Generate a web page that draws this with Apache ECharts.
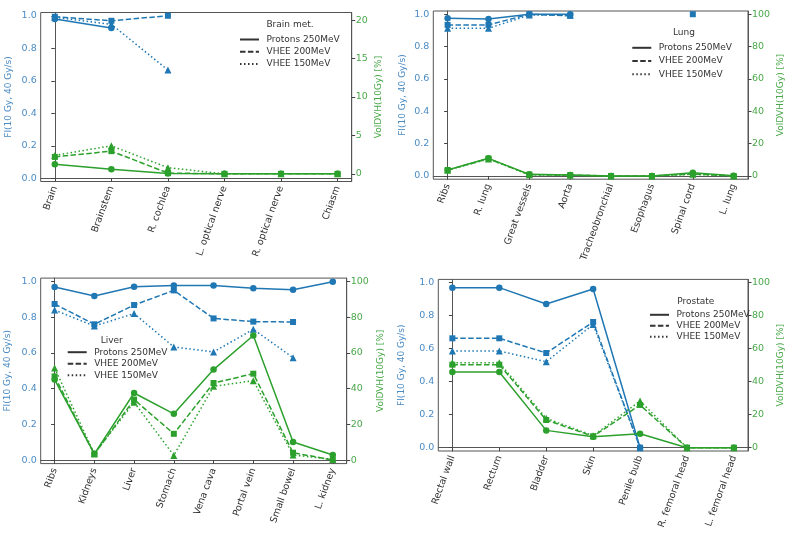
<!DOCTYPE html>
<html>
<head>
<meta charset="utf-8">
<script src="https://cdn.jsdelivr.net/npm/echarts@6/dist/echarts.min.js"></script>
<style>
  html, body { margin: 0; padding: 0; background: #fff; }
  #chart { width: 788px; height: 542px; }
</style>
</head>
<body>
<div id="chart"></div>
<script>
// 数据：四个部位，每个部位 FI（左轴）和 VolDVH（右轴）各三条射束曲线
const beamNames = ['Protons 250MeV', 'VHEE 200MeV', 'VHEE 150MeV'];

const fiTicks = [0, 0.2, 0.4, 0.6, 0.8, 1.0];
const brainVolTicks = [0, 5, 10, 15, 20];
const volTicks = [0, 20, 40, 60, 80, 100];

// Brain met.
const brainCats = ['Brain', 'Brainstem', 'R. cochlea', 'L. optical nerve', 'R. optical nerve', 'Chiasm'];
const brainFiP = [0.98, 0.924, null, null, null, null];
const brainFi200 = [0.994, 0.969, 1.0, null, null, null];
const brainFi150 = [0.99, 0.947, 0.666, null, null, null];
const brainVolP = [1.26, 0.61, 0.05, 0, 0, 0];
const brainVol200 = [2.2, 2.95, 0.1, 0, 0, 0];
const brainVol150 = [2.4, 3.65, 0.8, 0, 0, 0];

// Lung
const lungCats = ['Ribs', 'R. lung', 'Great vessels', 'Aorta', 'Tracheobronchial', 'Esophagus', 'Spinal cord', 'L. lung'];
const lungFiP = [0.975, 0.971, 1.0, 1.0, null, null, null, null];
const lungFi200 = [0.934, 0.934, 1.0, 0.99, null, null, 1.0, null];
const lungFi150 = [0.913, 0.913, 0.995, 0.995, null, null, null, null];
const lungVolP = [3.7, 10.9, 1.0, 0.6, 0, 0, 2.0, 0.2];
const lungVol200 = [3.7, 10.7, 0.8, 0.5, 0, 0, 1.2, 0];
const lungVol150 = [3.6, 10.5, 0.7, 0.4, 0, 0, 1.0, 0];

// Liver
const liverCats = ['Ribs', 'Kidneys', 'Liver', 'Stomach', 'Vena cava', 'Portal vein', 'Small bowel', 'L. kidney'];
const liverFiP = [0.970, 0.920, 0.972, 0.979, 0.978, 0.963, 0.955, 1.0];
const liverFi200 = [0.875, 0.761, 0.869, 0.951, 0.794, 0.776, 0.774, null];
const liverFi150 = [0.841, 0.751, 0.821, 0.634, 0.606, 0.733, 0.574, null];
const liverVolP = [45.1, 3.5, 37.6, 25.9, 50.7, 69.8, 10.1, 2.8];
const liverVol200 = [46.9, 3.2, 33.9, 14.7, 43.2, 48.4, 4.1, 0];
const liverVol150 = [51.6, 3.5, 32.4, 2.6, 41.3, 44.5, 2.8, 0.4];

// Prostate
const prostateCats = ['Rectal wall', 'Rectum', 'Bladder', 'Skin', 'Penile bulb', 'R. femoral head', 'L. femoral head'];
const prostateFiP = [0.970, 0.970, 0.871, 0.962, 0, null, null];
const prostateFi200 = [0.663, 0.663, 0.574, 0.762, 0, null, null];
const prostateFi150 = [0.586, 0.586, 0.521, 0.747, 0, null, null];
const prostateVolP = [45.9, 45.9, 10.5, 6.7, 8.5, 0, 0];
const prostateVol200 = [50.3, 50.3, 16.8, 6.9, 25.9, 0, 0];
const prostateVol150 = [51.5, 51.5, 17.8, 7.3, 28.3, 0, 0];

const BLUE = '#1f77b4';
const GREEN = '#2ca02c';
const BLUE_TEXT = '#4b8bc4';
const GREEN_TEXT = '#4aa84a';
const beamSymbols = ['circle', 'rect', 'triangle'];
const beamSymbolSize = [6.5, 6, 7];
const beamDash = ['solid', [5.5, 2.4], [1.5, 2.5]];

const panels = [
    {
        title: 'Brain met.', cats: brainCats,
        fi: [brainFiP, brainFi200, brainFi150], vol: [brainVolP, brainVol200, brainVol150],
        volTicks: brainVolTicks, volRange: [-1, 21],
        grid: { left: 40.7, top: 12.5, width: 311, height: 169 },
        leftGap: 28, rightGap: 22,
        legend: { x: 239, y: 40, step: 13.3, titleX: 290, titleY: 26 }
    },
    {
        title: 'Lung', cats: lungCats,
        fi: [lungFiP, lungFi200, lungFi150], vol: [lungVolP, lungVol200, lungVol150],
        volTicks: volTicks, volRange: [-2, 102],
        grid: { left: 433.3, top: 11, width: 314.7, height: 168.2 },
        leftGap: 26.5, rightGap: 28,
        legend: { x: 631.3, y: 48.3, step: 14.2, titleX: 684, titleY: 34 }
    },
    {
        title: 'Liver', cats: liverCats,
        fi: [liverFiP, liverFi200, liverFi150], vol: [liverVolP, liverVol200, liverVol150],
        volTicks: volTicks, volRange: [-2, 102],
        grid: { left: 40.7, top: 278.1, width: 306, height: 185.5 },
        leftGap: 29, rightGap: 29,
        legend: { x: 66.7, y: 352.7, step: 12.5, titleX: 111.7, titleY: 341.3 }
    },
    {
        title: 'Prostate', cats: prostateCats,
        fi: [prostateFiP, prostateFi200, prostateFi150], vol: [prostateVolP, prostateVol200, prostateVol150],
        volTicks: volTicks, volRange: [-2, 102],
        grid: { left: 438.3, top: 279.4, width: 309.7, height: 171.6 },
        leftGap: 32.5, rightGap: 28,
        legend: { x: 649, y: 315.3, step: 12, titleX: 695.7, titleY: 302.7 }
    }
];

const tickStyle = { length: 3.5, lineStyle: { color: '#444', width: 1 } };

function toPoints(values) {
    return values.map((v, j) => [j, v === null ? '-' : v]);
}

const grids = [], xAxes = [], yAxes = [], legends = [], titles = [];
// 图例用的占位系列（黑色线型）
const series = beamNames.map((name, b) => ({
    name: name, type: 'line', xAxisIndex: 0, yAxisIndex: 0, data: [],
    symbol: 'none', color: '#333',
    itemStyle: { color: 'rgba(0,0,0,0)' },
    lineStyle: { color: '#333', width: 1.1, type: beamDash[b] }
}));

panels.forEach((p, i) => {
    const n = p.cats.length;
    const idx = p.cats.map((_, j) => j);
    grids.push(Object.assign({ show: true, borderColor: '#555', borderWidth: 1, backgroundColor: 'transparent' }, p.grid));

    xAxes.push({
        type: 'value', gridIndex: i, min: -0.05 * (n - 1), max: 1.05 * (n - 1),
        axisLine: { show: true, lineStyle: { color: '#555' } },
        splitLine: { show: false },
        axisTick: Object.assign({ show: true, customValues: idx }, tickStyle),
        axisLabel: {
            customValues: idx, rotate: 70, fontSize: 9.5, color: '#333', margin: 5,
            fontFamily: 'DejaVu Sans',
            formatter: v => p.cats[Math.round(v)]
        }
    });

    yAxes.push({
        type: 'value', gridIndex: i, position: 'left', min: -0.02, max: 1.02,
        axisLine: { show: true, lineStyle: { color: '#555' } },
        splitLine: { show: false },
        axisTick: Object.assign({ show: true, customValues: fiTicks }, tickStyle),
        axisLabel: {
            customValues: fiTicks, fontSize: 9.5, color: BLUE_TEXT, margin: 4,
            fontFamily: 'DejaVu Sans', formatter: v => v.toFixed(1)
        },
        name: 'FI(10 Gy, 40 Gy/s)', nameLocation: 'middle', nameGap: p.leftGap, nameRotate: 90,
        nameTextStyle: { color: BLUE_TEXT, fontSize: 9, fontFamily: 'DejaVu Sans' }
    });
    yAxes.push({
        type: 'value', gridIndex: i, position: 'right', min: p.volRange[0], max: p.volRange[1],
        axisLine: { show: true, lineStyle: { color: '#555' } },
        splitLine: { show: false },
        axisTick: Object.assign({ show: true, customValues: p.volTicks }, tickStyle),
        axisLabel: {
            customValues: p.volTicks, fontSize: 9.5, color: GREEN_TEXT, margin: 4,
            fontFamily: 'DejaVu Sans', formatter: v => String(v)
        },
        name: 'VolDVH(10Gy) [%]', nameLocation: 'middle', nameGap: p.rightGap, nameRotate: 90,
        nameTextStyle: { color: GREEN_TEXT, fontSize: 9, fontFamily: 'DejaVu Sans' }
    });

    for (let b = 0; b < 3; b++) {
        series.push({
            name: p.title + ' FI ' + beamNames[b], type: 'line',
            xAxisIndex: i, yAxisIndex: 2 * i, data: toPoints(p.fi[b]),
            symbol: beamSymbols[b], symbolSize: beamSymbolSize[b], connectNulls: false,
            itemStyle: { color: BLUE }, lineStyle: { color: BLUE, width: 1.5, type: beamDash[b] },
            z: 2 + b
        });
    }
    for (let b = 0; b < 3; b++) {
        series.push({
            name: p.title + ' Vol ' + beamNames[b], type: 'line',
            xAxisIndex: i, yAxisIndex: 2 * i + 1, data: toPoints(p.vol[b]),
            symbol: beamSymbols[b], symbolSize: beamSymbolSize[b], connectNulls: false,
            itemStyle: { color: GREEN }, lineStyle: { color: GREEN, width: 1.5, type: beamDash[b] },
            z: 5 + b
        });
    }

    const L = p.legend;
    legends.push({
        data: beamNames, orient: 'vertical', left: L.x, top: L.y - 5,
        itemWidth: 19, itemHeight: 10, itemGap: L.step - 10, padding: 0,
        selectedMode: false,
        textStyle: { fontSize: 9, color: '#333', fontFamily: 'DejaVu Sans', padding: [0, 0, 0, 2.5] }
    });
    titles.push({
        text: p.title, left: L.titleX, top: L.titleY - 5.5, textAlign: 'center', padding: 0,
        textStyle: { fontSize: 9, fontWeight: 'normal', color: '#333', fontFamily: 'DejaVu Sans' }
    });
});

const chart = echarts.init(document.getElementById('chart'));
chart.setOption({
    animation: false,
    backgroundColor: '#fff',
    textStyle: { fontFamily: 'DejaVu Sans' },
    title: titles,
    legend: legends,
    grid: grids,
    xAxis: xAxes,
    yAxis: yAxes,
    series: series
});
</script>
</body>
</html>
